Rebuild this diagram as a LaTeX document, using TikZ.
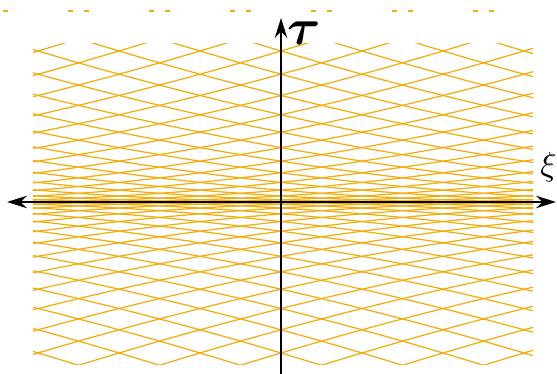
\documentclass[tikz,border=0pt]{standalone}
\usepackage{amsmath, amssymb}
\usepackage{graphicx}
\usepackage{xcolor}
\usepackage{tikz}
\usetikzlibrary{arrows.meta,positioning}
\definecolor{gridorange}{RGB}{242,172,12}

\begin{document}
\begin{tikzpicture}[x=0.02cm, y=0.02cm]
    \tikzstyle{gridline}=[draw=gridorange, line width=0.7pt]
    \tikzstyle{axis}=[draw=black, line width=0.85pt]
    \useasboundingbox (-281,-172) rectangle (276,202);
    % characteristic curves
    \begin{scope}
      \clip (-248,-163) rectangle (252,158);
      \foreach \j in {-17,...,16}{
        \pgfmathsetmacro{\c}{40.5+81*\j}
        \pgfmathsetmacro{\smin}{max(-12.9,(-250-\c)/82.4)}
        \pgfmathsetmacro{\smax}{min(12.9,(254-\c)/82.4)}
        \ifdim\smin pt<\smax pt
          \draw[gridline] plot[domain=\smin:\smax, samples=90, smooth] ({\c+82.4*\x},{\x*\x});
          \draw[gridline] plot[domain=\smin:\smax, samples=90, smooth] ({\c+82.4*\x},{-\x*\x});
        \fi
      }
    \end{scope}
    % bits at the top
    \foreach \j in {-4,...,2}{
      \draw[gridline] ({40.5+81*\j-10.5},191) -- ({40.5+81*\j-5.5},191);
      \draw[gridline] ({40.5+81*\j+5.5},191) -- ({40.5+81*\j+10.5},191);
    }
    % axes
    \coordinate (xl) at (-274,0);
    \coordinate (xr) at (275,0);
    \coordinate (yb) at (0,-172);
    \coordinate (yt) at (0,184);
    \draw[axis, {Stealth[length=0.4cm, width=0.25cm]}-{Stealth[length=0.4cm, width=0.25cm]}] (xl) -- (xr);
    \draw[axis, -{Stealth[length=0.4cm, width=0.25cm]}] (yb) -- (yt);
    \node[anchor=base west, inner sep=0pt] (tau) at (6,157) {\scalebox{2.9}{$\boldsymbol{\tau}$}};
    \node[anchor=base west, inner sep=0pt] (xi) at (259,26) {\scalebox{1.9}{$\xi$}};
  \end{tikzpicture}
\end{document}
